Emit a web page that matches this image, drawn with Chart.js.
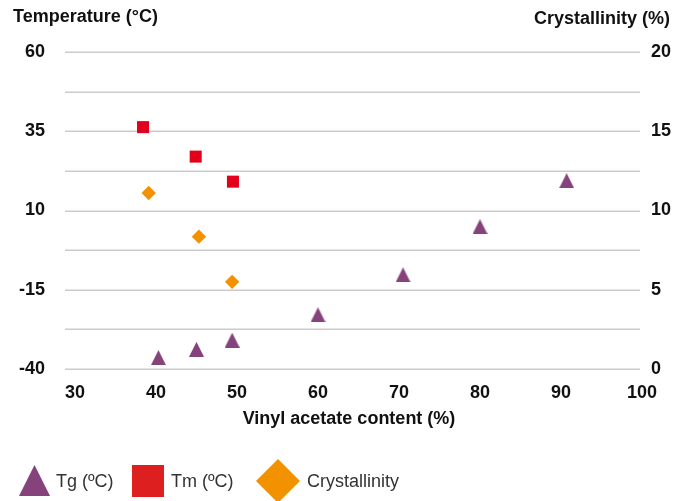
<!DOCTYPE html>
<html>
<head>
<meta charset="utf-8">
<script src="https://cdn.jsdelivr.net/npm/chart.js@4.4.1/dist/chart.umd.min.js"></script>
<style>
  html, body { margin: 0; padding: 0; background: #ffffff; }
  #wrap { width: 691px; height: 501px; position: relative; }
</style>
</head>
<body>
<div id="wrap"><canvas id="chart" width="691" height="501"></canvas></div>
<script>
// Vinyl acetate content (%) and measured properties
const vaTg = [40.3, 45.0, 49.4, 60.0, 70.5, 80.0, 90.7];
const tg = [-36.4, -33.8, -30.9, -22.9, -10.3, 4.9, 19.4];
const vaTm = [38.4, 44.9, 49.5];
const tm = [36.3, 27.0, 19.1];
const vaCryst = [39.1, 45.3, 49.4];
const crystallinity = [11.1, 8.35, 5.5];

// Axis tick labels
const xTicks = [30, 40, 50, 60, 70, 80, 90, 100];
const tempTicks = [60, 35, 10, -15, -40];
const crystTicks = [20, 15, 10, 5, 0];

const seriesNames = ['Tg (ºC)', 'Tm (ºC)', 'Crystallinity'];

const PURPLE = '#86427a';
const RED = '#e2001a';
const LEGEND_RED = '#de1f1f';
const ORANGE = '#f39200';
const FONT = '"Liberation Sans", Arial, Helvetica, sans-serif';

const pairs = (xs, ys) => xs.map((x, i) => ({ x: x, y: ys[i] }));

// Upright triangle marker, slightly taller than equilateral
function triangleMarker(size, color) {
  const c = document.createElement('canvas');
  c.width = size; c.height = size;
  const g = c.getContext('2d');
  g.fillStyle = color;
  g.beginPath();
  g.moveTo(size / 2, 0);
  g.lineTo(size, size);
  g.lineTo(0, size);
  g.closePath();
  g.fill();
  return c;
}

const gridPlugin = {
  id: 'hgrid',
  beforeDatasetsDraw(chart) {
    const { ctx, chartArea } = chart;
    const ys = chart.scales.y;
    ctx.save();
    ctx.strokeStyle = '#cbcbcb';
    ctx.lineWidth = 1.5;
    ys.ticks.forEach(t => {
      const py = Math.round(ys.getPixelForValue(t.value)) + 0.25;
      ctx.beginPath();
      ctx.moveTo(chartArea.left - 10, py);
      ctx.lineTo(chartArea.right - 2, py);
      ctx.stroke();
    });
    ctx.restore();
  }
};

const textPlugin = {
  id: 'texts',
  afterDraw(chart) {
    const { ctx, chartArea } = chart;
    ctx.save();
    ctx.fillStyle = '#111111';
    ctx.font = 'bold 18px ' + FONT;
    ctx.textBaseline = 'middle';
    ctx.textAlign = 'left';
    ctx.fillText('Temperature (°C)', 13, 17);
    ctx.textAlign = 'right';
    ctx.fillText('Crystallinity (%)', 670, 19);
    ctx.textAlign = 'center';
    ctx.fillText('Vinyl acetate content (%)', 349, 419);

    // Legend
    const ly = 481;
    ctx.fillStyle = PURPLE;
    ctx.beginPath();
    ctx.moveTo(34.5, 465);
    ctx.lineTo(50, 496);
    ctx.lineTo(19, 496);
    ctx.closePath();
    ctx.fill();

    ctx.fillStyle = LEGEND_RED;
    ctx.fillRect(132, 465, 32, 32);

    ctx.fillStyle = ORANGE;
    ctx.beginPath();
    ctx.moveTo(278, 459);
    ctx.lineTo(300, 481);
    ctx.lineTo(278, 503);
    ctx.lineTo(256, 481);
    ctx.closePath();
    ctx.fill();

    ctx.fillStyle = '#333333';
    ctx.font = '18px ' + FONT;
    ctx.textAlign = 'left';
    ctx.fillText(seriesNames[0], 56, ly + 1);
    ctx.fillText(seriesNames[1], 171, ly + 1);
    ctx.fillText(seriesNames[2], 307, ly + 1);
    ctx.restore();
  }
};

const tickFont = { family: FONT, size: 18, weight: 'bold' };

new Chart(document.getElementById('chart'), {
  type: 'scatter',
  data: {
    datasets: [
      {
        label: seriesNames[0],
        data: pairs(vaTg, tg),
        yAxisID: 'y',
        pointStyle: triangleMarker(15, PURPLE),
        backgroundColor: PURPLE,
        borderWidth: 0
      },
      {
        label: seriesNames[1],
        data: pairs(vaTm, tm),
        yAxisID: 'y',
        pointStyle: 'rect',
        pointRadius: 8.5,
        pointHoverRadius: 8.5,
        backgroundColor: RED,
        borderColor: RED,
        borderWidth: 0
      },
      {
        label: seriesNames[2],
        data: pairs(vaCryst, crystallinity),
        yAxisID: 'y1',
        pointStyle: 'rectRot',
        pointRadius: 7.2,
        pointHoverRadius: 7.2,
        backgroundColor: ORANGE,
        borderColor: ORANGE,
        borderWidth: 0
      }
    ]
  },
  options: {
    responsive: false,
    animation: false,
    devicePixelRatio: 1,
    layout: { padding: { top: 52, left: 0, right: 0, bottom: 0 } },
    plugins: {
      legend: { display: false },
      tooltip: { enabled: false }
    },
    scales: {
      x: {
        type: 'linear',
        min: xTicks[0],
        max: xTicks[xTicks.length - 1],
        afterBuildTicks: s => { s.ticks = xTicks.map(v => ({ value: v })); },
        ticks: { font: tickFont, color: '#111111', padding: 13, autoSkip: false, maxRotation: 0 },
        grid: { display: false, drawTicks: false },
        border: { display: false },
        afterFit: s => { s.height = 132; }
      },
      y: {
        position: 'left',
        min: tempTicks[tempTicks.length - 1],
        max: tempTicks[0],
        ticks: {
          stepSize: 12.5,
          autoSkip: false,
          font: tickFont,
          color: '#111111',
          padding: 30,
          callback: v => tempTicks.includes(v) ? String(v) : ''
        },
        grid: { display: false, drawTicks: false },
        border: { display: false },
        afterFit: s => { s.width = 75; }
      },
      y1: {
        position: 'right',
        min: crystTicks[crystTicks.length - 1],
        max: crystTicks[0],
        ticks: {
          stepSize: 2.5,
          autoSkip: false,
          font: tickFont,
          color: '#111111',
          padding: 9,
          callback: v => crystTicks.includes(v) ? String(v) : ''
        },
        grid: { display: false, drawTicks: false },
        border: { display: false },
        afterFit: s => { s.width = 49; }
      }
    }
  },
  plugins: [gridPlugin, textPlugin]
});
</script>
</body>
</html>
